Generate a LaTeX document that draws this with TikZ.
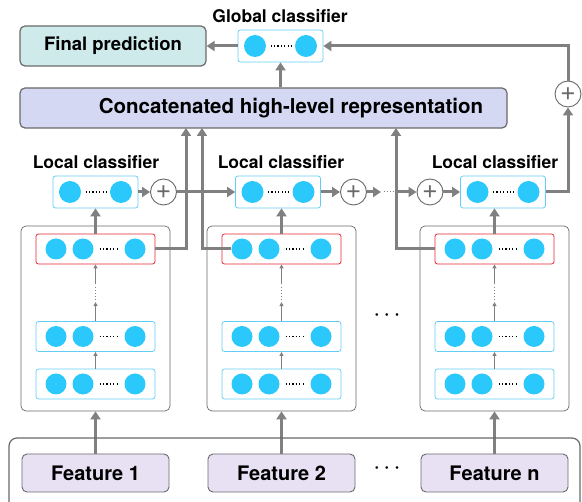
\documentclass[tikz,border=0pt]{standalone}
\usepackage{fontspec}
\setmainfont{TeX Gyre Heros}
\usepackage{tikz}
\usetikzlibrary{positioning}
\usetikzlibrary{calc}
\usetikzlibrary{arrows.meta}
\definecolor{unitblue}{RGB}{43,200,252}
\definecolor{layerblue}{RGB}{100,205,245}
\definecolor{topred}{RGB}{228,40,52}
\definecolor{arrowgray}{RGB}{128,128,128}
\definecolor{framegray}{RGB}{105,105,105}
\definecolor{predfill}{RGB}{206,234,235}
\definecolor{concatfill}{RGB}{212,216,243}
\definecolor{featfill}{RGB}{232,225,243}
\tikzset{
  unit/.style={circle,fill=unitblue,minimum size=21pt,inner sep=0pt},
  bigunit/.style={unit,minimum size=22pt},
  layer/.style={draw=layerblue,line width=0.8pt,rounded corners=2.5pt,
                minimum width=119pt,minimum height=30pt,inner sep=0pt},
  toplayer/.style={layer,draw=topred},
  clf/.style={draw=layerblue,line width=0.8pt,rounded corners=2.5pt,
              minimum width=85pt,minimum height=32pt,inner sep=0pt},
  column/.style={draw=framegray,line width=0.7pt,rounded corners=5pt,
                 minimum width=149pt,minimum height=185pt,inner sep=0pt},
  plus/.style={circle,draw=framegray,line width=0.9pt,minimum size=26pt,inner sep=0pt,
               text=framegray,font=\fontsize{27}{27}\selectfont\mdseries},
  labeltext/.style={font=\fontsize{17.5}{20}\selectfont\bfseries},
  predbox/.style={draw=framegray,fill=predfill,line width=1.2pt,rounded corners=5pt,
                  minimum width=186pt,minimum height=40pt,font=\fontsize{18.5}{20}\selectfont\bfseries},
  concatbox/.style={predbox,fill=concatfill,minimum width=487pt},
  concattext/.style={font=\fontsize{20.5}{22}\selectfont\bfseries},
  featbox/.style={predbox,fill=featfill,line width=0.9pt,minimum width=147pt,minimum height=38pt,
                  font=\fontsize{20}{22}\selectfont\bfseries},
  bigarrow/.style={draw=arrowgray,line width=3pt,-{Triangle[length=8pt,width=10pt]}},
  smallarrow/.style={draw=arrowgray,line width=1pt,-{Triangle[length=4pt,width=4pt]}},
  unitdots/.style={line width=1.2pt,dash pattern=on 1.2pt off 2.2pt},
  gapdots/.style={draw=arrowgray,line width=1pt,dash pattern=on 1pt off 2pt},
  ellip/.style={font=\fontsize{18}{18}\selectfont\bfseries}
}
\begin{document}
\begin{tikzpicture}[x=1pt,y=-1pt]
  \useasboundingbox (0,0) rectangle (582,502);

  % output side
  \node[predbox] (pred) at (113,46) {Final prediction};
  \node[clf] (glob) at (280.5,46) {};
  \node[bigunit] (glob-a) at ($(glob)+(-25.5,0)$) {};
  \node[bigunit] (glob-b) at ($(glob)+(25.5,0)$) {};
  \draw[unitdots] ($(glob)+(-10,0)$) -- ($(glob)+(11,0)$);
  \node[labeltext] (globl) at (280,16) {Global classifier};
  \node[concatbox] (concat) at (263.5,108) {};
  \node[concattext] (concatl) at (291,108) {Concatenated high-level representation};
  \node[plus] (gplus) at (568,94) {+};

  % the n columns
  \foreach \i/\cx/\lx/\tx/\ft in {1/95.5/95.5/96/1, 2/281.5/278/281/2, 3/494.5/503/495/n} {
    \node[column] (col\i) at (\cx,318.5) {};
    \node[toplayer] (red\i) at (\cx,249) {};
    \node[layer] (laya\i) at (\cx,336.5) {};
    \node[layer] (layb\i) at (\cx,384) {};
    \foreach \l in {red,laya,layb} {
      \node[unit] (\l\i-a) at ($(\l\i)+(-39.5,0)$) {};
      \node[unit] (\l\i-b) at ($(\l\i)+(-12.5,0)$) {};
      \node[unit] (\l\i-c) at ($(\l\i)+(39.5,0)$) {};
      \draw[unitdots] ($(\l\i)+(4,0)$) -- ($(\l\i)+(24,0)$);
    }
    \node[clf] (lc\i) at (\lx,192) {};
    \node[bigunit] (lc\i-a) at ($(lc\i)+(-25.5,0)$) {};
    \node[bigunit] (lc\i-b) at ($(lc\i)+(25.5,0)$) {};
    \draw[unitdots] ($(lc\i)+(-10,0)$) -- ($(lc\i)+(11,0)$);
    \node[labeltext] (lcl\i) at (\tx,162) {Local classifier};
    \node[featbox] (feat\i) at (\cx,473) {Feature \ft};

    \coordinate (gapb\i) at ($(laya\i.north)+(0,-19)$);
    \coordinate (gapt\i) at ($(red\i.south)+(0,20)$);
    \draw[smallarrow] (layb\i) -- (laya\i);
    \draw[smallarrow] (laya\i.north) -- (gapb\i);
    \draw[gapdots] ($(gapb\i)+(0,-2)$) -- ($(gapt\i)+(0,1)$);
    \draw[smallarrow] (gapt\i) -- (red\i.south);
    \draw[bigarrow] (feat\i.north) -- (col\i.south);
    \draw[bigarrow] (red\i.north) -- (red\i.north |- lc\i.south);
  }

  \node[ellip] (dotsmid) at (387,317) {· · ·};
  \node[ellip] (dotsfeat) at (387,470) {· · ·};

  % feature frame
  \draw[framegray,line width=1.2pt,rounded corners=8pt] (9,510) -- (9,438) -- (580,438) -- (580,510);

  % into the concatenation
  \coordinate (up1) at (186,128);
  \coordinate (up2) at (202,128);
  \coordinate (up3) at (396,128);
  \draw[bigarrow] (red1.east) -| (up1);
  \draw[bigarrow] (red2-a.west) -| (up2);
  \draw[bigarrow] (red3.west) -| (up3);

  % chain of local classifiers
  \node[plus] (plus1) at (163.5,192) {+};
  \node[plus] (plus2) at (353.5,192) {+};
  \node[plus] (plus3) at (430,192) {+};
  \coordinate (skip1) at (381,192);
  \draw[bigarrow] (lc1) -- (plus1);
  \draw[bigarrow] (plus1) -- (lc2);
  \draw[bigarrow] (lc2) -- (plus2);
  \draw[bigarrow] (plus2) -- (skip1);
  \draw[gapdots] ($(skip1)+(3,0)$) -- (up3 |- skip1);
  \draw[bigarrow] (up3 |- plus3) -- (plus3);
  \draw[bigarrow] (plus3) -- (lc3);

  % global classifier
  \draw[bigarrow] (lc3.east) -| (gplus.south);
  \draw[bigarrow] (gplus.north) |- (glob.east);
  \draw[bigarrow] (glob |- concat.north) -- (glob.south);
  \draw[bigarrow] (glob) -- (pred);
\end{tikzpicture}
\end{document}
